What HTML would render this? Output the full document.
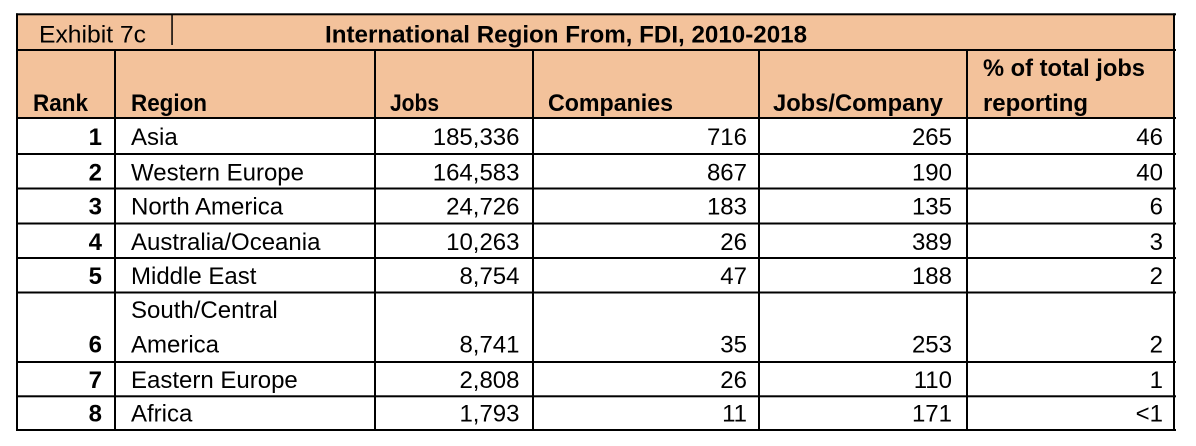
<!DOCTYPE html>
<html><head><meta charset="utf-8"><style>
html,body{margin:0;padding:0;background:#fff;}
svg{display:block;}
text{font-family:"Liberation Sans",Arial,sans-serif;font-size:24px;fill:#000;}
.b{font-weight:bold;}
.r{text-anchor:end;}
</style></head><body>
<svg width="1196" height="446" viewBox="0 0 1196 446" xmlns="http://www.w3.org/2000/svg">
<rect x="0" y="0" width="1196" height="446" fill="#fff"/>
<rect x="17" y="14" width="1157" height="104" fill="#F3C29B"/>
<g fill="#000">
<rect x="16" y="13.3" width="1160" height="2"/>
<rect x="16" y="49" width="1160" height="2"/>
<rect x="16" y="117" width="1160" height="2"/>
<rect x="16" y="153" width="1160" height="2"/>
<rect x="16" y="187.5" width="1160" height="2"/>
<rect x="16" y="222.5" width="1160" height="2"/>
<rect x="16" y="257" width="1160" height="2"/>
<rect x="16" y="291.5" width="1160" height="2"/>
<rect x="16" y="361" width="1160" height="2"/>
<rect x="16" y="395.3" width="1160" height="2"/>
<rect x="16" y="429" width="1160" height="2"/>
<rect x="16" y="13.3" width="2" height="417.7"/>
<rect x="1173" y="13.3" width="2" height="417.7"/>
<rect x="114" y="49" width="2" height="382"/>
<rect x="374" y="49" width="2" height="382"/>
<rect x="532" y="49" width="2" height="382"/>
<rect x="758" y="49" width="2" height="382"/>
<rect x="966" y="49" width="2" height="382"/>
<rect x="171.3" y="15" width="1.5" height="30"/>
</g>
<text x="39" y="42.7" textLength="107" lengthAdjust="spacingAndGlyphs">Exhibit 7c</text>
<text class="b" x="325" y="42.7" textLength="482" lengthAdjust="spacingAndGlyphs">International Region From, FDI, 2010-2018</text>
<text class="b" x="33" y="111" textLength="55" lengthAdjust="spacingAndGlyphs">Rank</text>
<text class="b" x="131" y="111" textLength="76" lengthAdjust="spacingAndGlyphs">Region</text>
<text class="b" x="390" y="111" textLength="49" lengthAdjust="spacingAndGlyphs">Jobs</text>
<text class="b" x="548" y="111" textLength="125" lengthAdjust="spacingAndGlyphs">Companies</text>
<text class="b" x="773" y="111" textLength="170" lengthAdjust="spacingAndGlyphs">Jobs/Company</text>
<text class="b" x="983" y="76" textLength="162" lengthAdjust="spacingAndGlyphs">% of total jobs</text>
<text class="b" x="983" y="111" textLength="105" lengthAdjust="spacingAndGlyphs">reporting</text>
<g>
<text class="b r" x="102" y="145">1</text>
<text x="131" y="145">Asia</text>
<text class="r" x="519.5" y="145">185,336</text>
<text class="r" x="747" y="145">716</text>
<text class="r" x="952" y="145">265</text>
<text class="r" x="1163" y="145">46</text>

<text class="b r" x="102" y="180.5">2</text>
<text x="131" y="180.5">Western Europe</text>
<text class="r" x="519.5" y="180.5">164,583</text>
<text class="r" x="747" y="180.5">867</text>
<text class="r" x="952" y="180.5">190</text>
<text class="r" x="1163" y="180.5">40</text>

<text class="b r" x="102" y="214.5">3</text>
<text x="131" y="214.5">North America</text>
<text class="r" x="519.5" y="214.5">24,726</text>
<text class="r" x="747" y="214.5">183</text>
<text class="r" x="952" y="214.5">135</text>
<text class="r" x="1163" y="214.5">6</text>

<text class="b r" x="102" y="250">4</text>
<text x="131" y="250">Australia/Oceania</text>
<text class="r" x="519.5" y="250">10,263</text>
<text class="r" x="747" y="250">26</text>
<text class="r" x="952" y="250">389</text>
<text class="r" x="1163" y="250">3</text>

<text class="b r" x="102" y="284">5</text>
<text x="131" y="284">Middle East</text>
<text class="r" x="519.5" y="284">8,754</text>
<text class="r" x="747" y="284">47</text>
<text class="r" x="952" y="284">188</text>
<text class="r" x="1163" y="284">2</text>

<text x="131" y="318">South/Central</text>
<text class="b r" x="102" y="352.7">6</text>
<text x="131" y="352.7">America</text>
<text class="r" x="519.5" y="352.7">8,741</text>
<text class="r" x="747" y="352.7">35</text>
<text class="r" x="952" y="352.7">253</text>
<text class="r" x="1163" y="352.7">2</text>

<text class="b r" x="102" y="388">7</text>
<text x="131" y="388">Eastern Europe</text>
<text class="r" x="519.5" y="388">2,808</text>
<text class="r" x="747" y="388">26</text>
<text class="r" x="952" y="388">110</text>
<text class="r" x="1163" y="388">1</text>

<text class="b r" x="102" y="421.7">8</text>
<text x="131" y="421.7">Africa</text>
<text class="r" x="519.5" y="421.7">1,793</text>
<text class="r" x="747" y="421.7">11</text>
<text class="r" x="952" y="421.7">171</text>
<text class="r" x="1163" y="421.7">&lt;1</text>
</g>
</svg>
</body></html>
